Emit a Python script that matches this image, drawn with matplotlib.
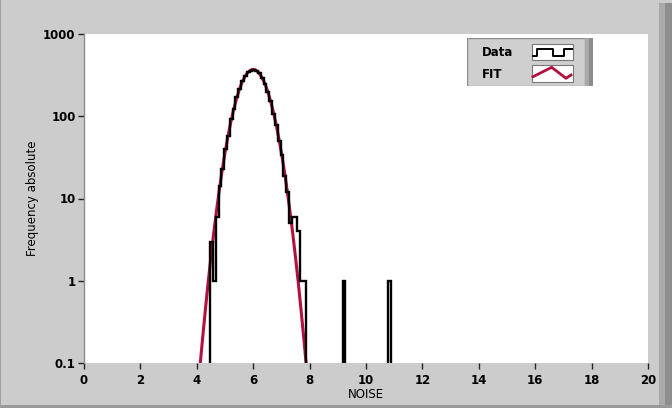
import matplotlib
matplotlib.use('Agg')
import matplotlib.pyplot as plt
from matplotlib.patches import Rectangle
import numpy as np

# histogram of the noise values, intervals of 0.1 between min and max of the data
bin_start = 4.47
bin_stop = 10.87
counts = [3, 1, 6, 14, 23, 40, 58, 92, 123, 172, 214, 268, 305, 347, 358, 365,
          355, 335, 289, 249, 195, 154, 108, 79, 50, 34, 19, 12, 5, 6, 6, 4, 1, 1,
          0, 0, 0, 0, 0, 0, 0, 0, 0, 0, 0, 0, 0,
          1,
          0, 0, 0, 0, 0, 0, 0, 0, 0, 0, 0, 0, 0, 0, 0,
          1]

# gaussian fit
fit_x = [4.0, 4.1, 4.2, 4.3, 4.4, 4.5, 4.6, 4.7, 4.8, 4.9, 5.0, 5.1, 5.2, 5.3,
         5.4, 5.5, 5.6, 5.7, 5.8, 5.9, 6.0, 6.1, 6.2, 6.3, 6.4, 6.5, 6.6, 6.7,
         6.8, 6.9, 7.0, 7.1, 7.2, 7.3, 7.4, 7.5, 7.6, 7.7, 7.8, 7.9, 8.0]
fit_y = [0.032, 0.081, 0.19, 0.43, 0.94, 1.93, 3.81, 7.16, 12.8, 22.0, 35.9,
         56.0, 83.2, 118, 160, 207, 256, 301, 338, 363, 372, 363, 338, 301,
         256, 207, 160, 118, 83.2, 56.0, 35.9, 22.0, 12.8, 7.16, 3.81, 1.93,
         0.94, 0.43, 0.19, 0.081, 0.032]

x_ticks = [0, 2, 4, 6, 8, 10, 12, 14, 16, 18, 20]
y_ticks = [0.1, 1, 10, 100, 1000]
y_labels = ['0.1', '1', '10', '100', '1000']

W, H = 672, 408
BG = '#cccccc'
FIT_COLOR = '#b3103f'

fig = plt.figure(figsize=(W / 100, H / 100), dpi=100, facecolor=BG)

ax = fig.add_axes([84 / W, 1 - 363 / H, 564 / W, 329 / H])
ax.set_facecolor('white')

edges = np.linspace(bin_start, bin_stop, len(counts) + 1)
ax.plot(fit_x, fit_y, color=FIT_COLOR, lw=2.2, zorder=2)
ax.stairs(counts, edges, baseline=0, color='black', lw=1.7, zorder=3)

ax.set_yscale('log', nonpositive='clip')
ax.set_xlim(0, 20)
ax.set_ylim(0.1, 1000)
ax.set_xticks(x_ticks)
ax.set_xticklabels([str(t) for t in x_ticks], fontsize=8.5, fontweight='bold')
ax.set_yticks(y_ticks)
ax.set_yticklabels(y_labels, fontsize=8.5, fontweight='bold')
ax.yaxis.set_minor_locator(matplotlib.ticker.NullLocator())
ax.tick_params(axis='both', direction='out', length=4, width=1, color='#222222')
ax.tick_params(axis='x', pad=4)
ax.tick_params(axis='y', pad=2)

for s in ['top', 'right', 'bottom']:
    ax.spines[s].set_visible(False)
ax.spines['left'].set_color('#8c8c8c')
ax.spines['left'].set_linewidth(1)

ax.set_xlabel('NOISE', fontsize=8.5, labelpad=1)
ax.set_ylabel('Frequency absolute', fontsize=8.5, labelpad=3)

# window frame
fig.patches.append(Rectangle((659 / W, 0), 6 / W, 1 - 3 / H, transform=fig.transFigure,
                             facecolor='#aaaaaa', edgecolor='none'))
fig.patches.append(Rectangle((665 / W, 0), 7 / W, 1 - 3 / H, transform=fig.transFigure,
                             facecolor='#8e8e8e', edgecolor='none'))
fig.patches.append(Rectangle((0, 0), 1, 3 / H, transform=fig.transFigure,
                             facecolor='#9a9a9a', edgecolor='none'))
fig.patches.append(Rectangle((0, 0), 1 / W, 1, transform=fig.transFigure,
                             facecolor='#a0a0a0', edgecolor='none'))

# LabVIEW style legend
lx, ly, lw_, lh = 467, 38, 126, 48
lg = fig.add_axes([lx / W, 1 - (ly + lh) / H, lw_ / W, lh / H])
lg.set_xlim(0, lw_)
lg.set_ylim(lh, 0)
lg.axis('off')
lg.add_patch(Rectangle((0, 0), 118, lh, facecolor='#cfcfcf', edgecolor='#8a8a8a', lw=1))
lg.add_patch(Rectangle((118, 0), 4, lh, facecolor='#a9a9a9', edgecolor='none'))
lg.add_patch(Rectangle((122, 0), 4, lh, facecolor='#8c8c8c', edgecolor='none'))
lg.text(15, 15, 'Data', fontsize=8.5, fontweight='bold', va='center', ha='left')
lg.text(15, 36, 'FIT', fontsize=8.5, fontweight='bold', va='center', ha='left')
lg.add_patch(Rectangle((65, 6), 41, 16, facecolor='white', edgecolor='#777777', lw=0.8))
lg.add_patch(Rectangle((65, 27), 41, 17, facecolor='white', edgecolor='#777777', lw=0.8))
lg.plot([66, 70.3, 70.3, 85.7, 85.7, 97, 97, 104.7],
        [17.7, 17.7, 11, 11, 17.7, 17.7, 11, 11], color='black', lw=1.4)
lg.plot([66, 84.7, 99, 104], [38.7, 29.3, 40.3, 37], color=FIT_COLOR, lw=2)

fig.savefig('out.png', dpi=100, facecolor=BG)
